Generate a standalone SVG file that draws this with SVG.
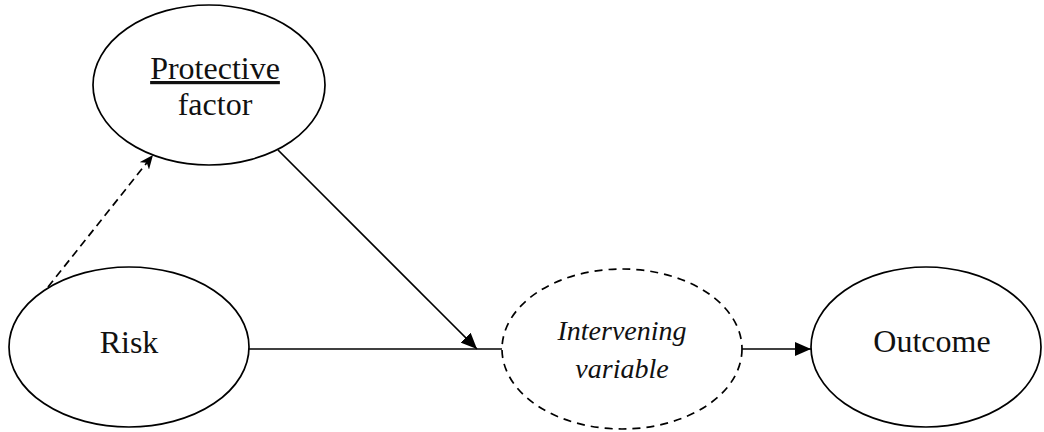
<svg xmlns="http://www.w3.org/2000/svg" width="1044" height="432" viewBox="0 0 1044 432">
<style>
.node{fill:#fff;stroke:#000;stroke-width:1.7}
.dash{stroke-dasharray:8 6}
.lbl{font-family:"Liberation Serif","Times New Roman",serif;font-size:32px;fill:#111;text-anchor:middle}
.it{font-style:italic;font-size:28px}
.con{fill:none;stroke:#000;stroke-width:1.7}
</style>
<defs>
<marker id="tri" viewBox="0 0 16 14" refX="16" refY="7" markerWidth="16" markerHeight="14" markerUnits="userSpaceOnUse" orient="auto">
<path d="M0,0 L16,7 L0,14 z" fill="#000"/>
</marker>
<marker id="stealth" viewBox="0 0 14 12" refX="14" refY="6" markerWidth="14" markerHeight="12" markerUnits="userSpaceOnUse" orient="auto">
<path d="M0,0 L14,6 L0,12 L4,6 z" fill="#000"/>
</marker>
</defs>
<g id="connectors">
<line class="con" x1="48" y1="287" x2="153" y2="155" stroke-dasharray="8 5" marker-end="url(#stealth)"/>
<line class="con" x1="278" y1="150" x2="477" y2="349" marker-end="url(#tri)"/>
<line class="con" x1="249" y1="349" x2="502" y2="349"/>
<line class="con" x1="742" y1="349" x2="811" y2="349" marker-end="url(#tri)"/>
</g>
<g id="protective">
<ellipse class="node" cx="209" cy="85" rx="116" ry="80"/>
<text class="lbl" x="215" y="79" text-decoration="underline">Protective</text>
<text class="lbl" x="215" y="115">factor</text>
</g>
<g id="risk">
<ellipse class="node" cx="129" cy="347" rx="120" ry="80"/>
<text class="lbl" x="129" y="353">Risk</text>
</g>
<g id="intervening">
<ellipse class="node dash" cx="622" cy="349" rx="120" ry="80"/>
<text class="lbl it" x="622" y="340">Intervening</text>
<text class="lbl it" x="622" y="378">variable</text>
</g>
<g id="outcome">
<ellipse class="node" cx="926" cy="347" rx="115" ry="80"/>
<text class="lbl" x="932" y="352">Outcome</text>
</g>
</svg>
